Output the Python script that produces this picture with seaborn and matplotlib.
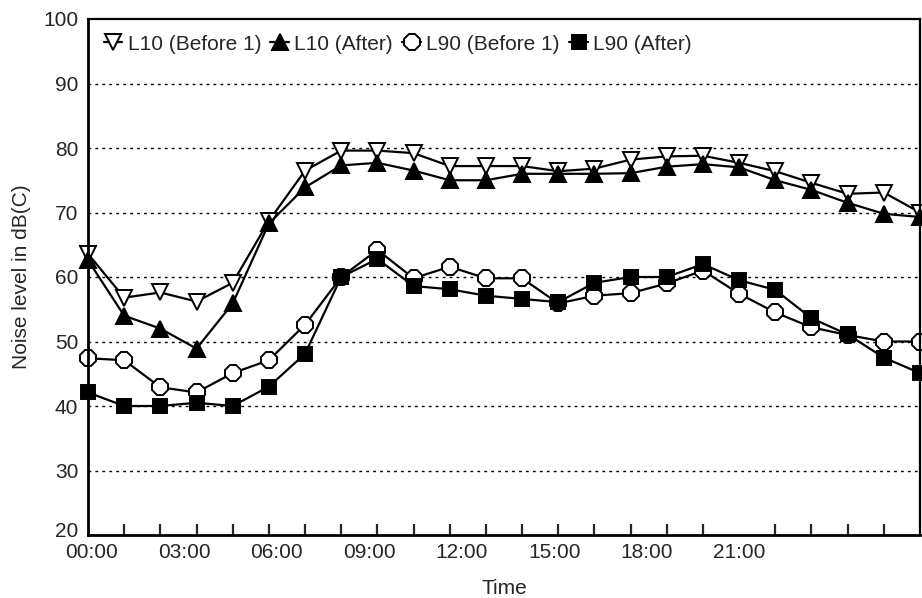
import numpy as np
import pandas as pd
import matplotlib
matplotlib.use("Agg")
import matplotlib.pyplot as plt
import matplotlib.transforms as mtransforms
import seaborn as sns

# hourly readings, 00:00 .. 23:00
hours = list(range(24))

l10_before = [63.6, 56.8, 57.6, 56.2, 59.1, 68.7, 76.5, 79.6, 79.6, 79.2, 77.2, 77.2,
              77.2, 76.4, 76.8, 78.2, 78.7, 78.8, 77.7, 76.4, 74.6, 72.9, 73.1, 70.0]
l10_after = [62.6, 54.0, 52.0, 48.9, 55.9, 68.3, 73.9, 77.3, 77.7, 76.5, 75.0, 75.0,
             76.0, 76.0, 76.0, 76.1, 77.1, 77.5, 77.0, 75.0, 73.5, 71.5, 69.8, 69.3]
l90_before = [47.4, 47.1, 42.9, 42.1, 45.1, 47.1, 52.6, 60.0, 64.2, 59.8, 61.6, 59.8,
              59.8, 55.9, 57.1, 57.5, 59.0, 61.0, 57.4, 54.5, 52.2, 51.0, 50.0, 50.0]
l90_after = [42.1, 40.0, 40.0, 40.5, 40.0, 43.0, 48.1, 60.0, 62.8, 58.6, 58.1, 57.1,
             56.6, 56.1, 59.1, 60.0, 60.0, 62.0, 59.5, 58.0, 53.6, 51.1, 47.5, 45.1]

tick_labels = ["00:00", "03:00", "06:00", "09:00", "12:00", "15:00", "18:00", "21:00"]

sns.set_style("white")
plt.rcParams["font.family"] = ["Liberation Sans", "DejaVu Sans"]
FS = 15

fig = plt.figure(figsize=(9.22, 5.98), dpi=100)
ax = fig.add_axes([88 / 922, 1 - 535 / 598, 832 / 922, 516 / 598])

series = [
    ("L10 (Before 1)", l10_before, dict(marker="v", markersize=12, markerfacecolor="white")),
    ("L10 (After)", l10_after, dict(marker="^", markersize=12, markerfacecolor="black")),
    ("L90 (Before 1)", l90_before, dict(marker="8", markersize=12.5, markerfacecolor="white")),
    ("L90 (After)", l90_after, dict(marker="s", markersize=9.5, markerfacecolor="black")),
]
for name, vals, kw in series:
    sns.lineplot(x=hours, y=vals, ax=ax, color="black", linewidth=1.6,
                 markeredgecolor="black", markeredgewidth=1.4, label=name,
                 clip_on=False, **kw)

ax.set_xlim(0, 23)
ax.set_ylim(20, 100)
ax.set_yticks(range(20, 101, 10))
for yv in range(30, 100, 10):
    ax.axhline(yv, color="black", linewidth=1.0, linestyle=(0, (2, 3)), zorder=0)

# hour marks pointing inward, labels spread as in the original chart
ax.set_xticks(hours[1:-1], minor=True)
ax.set_xticks(np.linspace(0.11, 18.0, len(tick_labels)))
ax.set_xticklabels(tick_labels)
ax.tick_params(axis="x", which="minor", direction="in", length=8, width=1.6, bottom=True)
ax.tick_params(axis="x", which="major", length=0, pad=6, labelsize=FS)
ax.tick_params(axis="y", length=0, pad=7, labelsize=FS)

# lift the bottom "20" a little so it clears "00:00"
lab20 = ax.get_yticklabels()[0]
lab20.set_transform(lab20.get_transform() +
                    mtransforms.ScaledTranslation(0, 4 / 72, fig.dpi_scale_trans))

for sp in ax.spines.values():
    sp.set_visible(True)
    sp.set_color("black")
    sp.set_linewidth(1.6)
ax.spines["left"].set_linewidth(2.0)
ax.spines["bottom"].set_linewidth(2.0)

ax.set_xlabel("Time", fontsize=FS, labelpad=12)
ax.set_ylabel("Noise level in dB(C)", fontsize=FS, labelpad=9)

ax.legend(loc="upper left", bbox_to_anchor=(0.0, 1.0), ncol=4, frameon=False,
          fontsize=FS, handlelength=0.9, handletextpad=0.25, columnspacing=0.45,
          borderaxespad=0.35)

fig.savefig("out.png", dpi=100)
